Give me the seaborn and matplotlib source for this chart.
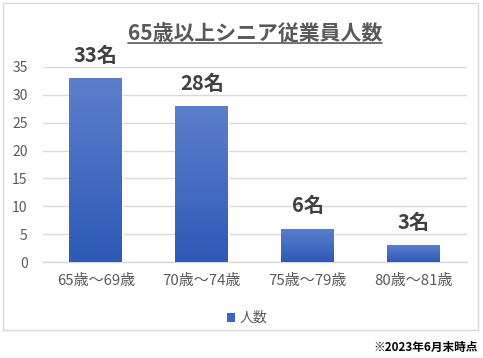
import numpy as np
import pandas as pd
import matplotlib
matplotlib.use("Agg")
import matplotlib.pyplot as plt
import seaborn as sns
from matplotlib.patches import Rectangle, Patch
from matplotlib.colors import LinearSegmentedColormap
from matplotlib.lines import Line2D

categories = ["65歳〜69歳", "70歳〜74歳", "75歳〜79歳", "80歳〜81歳"]
counts = [33, 28, 6, 3]
bar_labels = ["33名", "28名", "6名", "3名"]
series_name = "人数"
title = "65歳以上シニア従業員人数"
footnote = "※2023年6月末時点"
yticks = [0, 5, 10, 15, 20, 25, 30, 35]

sns.set_theme(style="white")
plt.rcParams["font.family"] = ["Noto Sans CJK JP", "DejaVu Sans"]

GRAY = "#595959"
GRID = "#D9D9D9"
TOP = "#5C7FCC"
BOTTOM = "#2D5AB6"

fig = plt.figure(figsize=(4.83, 3.58), dpi=100)
ax = fig.add_axes([43 / 483, 1 - 262 / 358, (466.5 - 43) / 483, (262 - 67) / 358])

df = pd.DataFrame({"category": categories, "count": counts})
sns.barplot(data=df, x="category", y="count", ax=ax, color=BOTTOM, width=0.5,
            saturation=1, zorder=2)

# gradient fill clipped to bars
cmap = LinearSegmentedColormap.from_list("g", [BOTTOM, TOP])
grad = np.linspace(0, 1, 256).reshape(-1, 1)
for p in list(ax.patches):
    x, w, h = p.get_x(), p.get_width(), p.get_height()
    im = ax.imshow(grad, extent=[x, x + w, 0, h], origin="lower", cmap=cmap,
                   aspect="auto", zorder=3, interpolation="bicubic")
    im.set_clip_path(p)

ax.set_xlim(-0.5, 3.5)
ax.set_ylim(0, 35)
ax.set_yticks(yticks)
ax.set_xlabel("")
ax.set_ylabel("")
ax.grid(axis="y", color=GRID, linewidth=1, zorder=0)
ax.set_axisbelow(True)
for s in ["left", "right", "top"]:
    ax.spines[s].set_visible(False)
ax.spines["bottom"].set_color(GRID)
ax.spines["bottom"].set_linewidth(1)
ax.tick_params(axis="y", length=0, pad=11, labelsize=10, labelcolor=GRAY)
ax.tick_params(axis="x", length=0, pad=9, labelsize=10.8, labelcolor=GRAY)

for i, (v, lab) in enumerate(zip(counts, bar_labels)):
    ax.annotate(lab, (i, v), xytext=(0, 9), textcoords="offset points",
                ha="center", va="bottom", fontsize=14.5, fontweight="bold",
                color="#404040", annotation_clip=False)

# title with underline
t = fig.text(255 / 483, 1 - 33 / 358, title, ha="center", va="center",
             fontsize=15, fontweight="bold", color=GRAY)
fig.canvas.draw()
bb = t.get_window_extent().transformed(fig.transFigure.inverted())
fig.add_artist(Line2D([bb.x0, bb.x1], [1 - 43 / 358, 1 - 43 / 358],
                      transform=fig.transFigure, color=GRAY, linewidth=1.2))

# legend
handle = Patch(facecolor="#3A66C4", edgecolor="none")
fig.legend([handle], [series_name], loc="center", bbox_to_anchor=(247 / 483, 1 - 318 / 358),
           frameon=False, fontsize=10, handlelength=0.6, handleheight=0.6,
           handletextpad=0.3, labelcolor=GRAY)

# chart border
fig.add_artist(Rectangle((3 / 483, 1 - 330 / 358), 475 / 483, 327 / 358,
                         transform=fig.transFigure, fill=False,
                         edgecolor=GRID, linewidth=1))

fig.text(478 / 483, 1 - 347 / 358, footnote, ha="right", va="center",
         fontsize=8.4, fontweight="bold", color="black")

fig.savefig("out.png", dpi=100)
